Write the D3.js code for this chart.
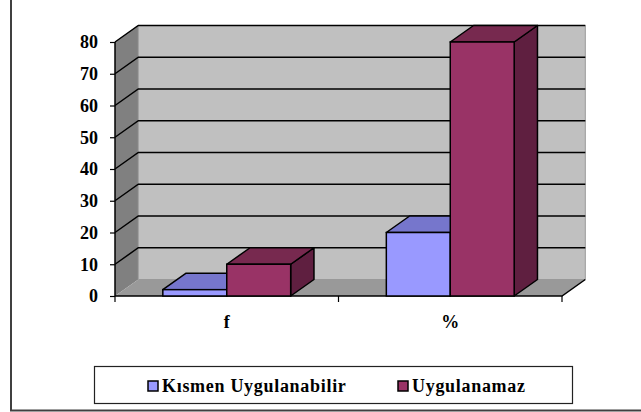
<!DOCTYPE html>
<html>
<head>
<meta charset="utf-8">
<script src="https://cdn.jsdelivr.net/npm/d3@7"></script>
<style>
  body { margin: 0; background: #fff; }
  svg text { font-family: "Liberation Serif", "Times New Roman", serif; font-weight: bold; }
</style>
</head>
<body>
<div class="chart"></div>
<script>
// Chart data
var categories = ["f", "%"];
var seriesNames = ["Kısmen Uygulanabilir", "Uygulanamaz"];
var kismenValues = [2, 20];
var uygulanamazValues = [10, 80];
var yTicks = [0, 10, 20, 30, 40, 50, 60, 70, 80];

var seriesColors = [
    { front: "#9999FF", top: "#7676CC", side: "#5C5C99" },
    { front: "#993366", top: "#77294F", side: "#5F1F40" }
];

var svgWidth = 641, svgHeight = 412;
var fontFam = "'Liberation Serif', 'Times New Roman', serif";

var svg = d3.select(".chart")
    .append("svg")
    .attr("width", svgWidth)
    .attr("height", svgHeight);

// outer frame (left + bottom only visible)
svg.append("path")
    .attr("d", "M11,0 V410.5 H641")
    .attr("fill", "none")
    .attr("stroke", "#404040")
    .attr("stroke-width", 2);

// plot geometry
var plotLeft = 115, plotRight = 562, plotBottom = 296;
var depthX = 23.3, depthY = -16.5;

var y = d3.scaleLinear()
    .domain([0, 80])
    .range([plotBottom, 42]);

var x0 = d3.scaleBand()
    .domain(categories)
    .range([plotLeft, plotRight]);

var bw = x0.bandwidth();
var x1 = d3.scaleBand()
    .domain(seriesNames)
    .range([bw * 0.214, bw * 0.786]);

var y0 = y(0), yTop = y(80);

// side wall
svg.append("polygon")
    .attr("points", [[plotLeft, y0], [plotLeft + depthX, y0 + depthY],
        [plotLeft + depthX, yTop + depthY], [plotLeft, yTop]].join(" "))
    .attr("fill", "#808080");

// back wall
svg.append("polygon")
    .attr("points", [[plotLeft + depthX, y0 + depthY], [plotRight + depthX, y0 + depthY],
        [plotRight + depthX, yTop + depthY], [plotLeft + depthX, yTop + depthY]].join(" "))
    .attr("fill", "#C0C0C0")
    .attr("stroke", "#999")
    .attr("stroke-width", 1);

// floor
svg.append("polygon")
    .attr("points", [[plotLeft, y0], [plotLeft + depthX, y0 + depthY],
        [plotRight + depthX, y0 + depthY], [plotRight, y0]].join(" "))
    .attr("fill", "#999999");

svg.append("path")
    .attr("d", `M${plotLeft},${y0} H${plotRight} L${plotRight + depthX},${y0 + depthY}`)
    .attr("fill", "none")
    .attr("stroke", "#000")
    .attr("stroke-width", 1.5);

// gridlines on side + back wall
svg.selectAll(".grid")
    .data(yTicks.filter(d => d > 0))
    .enter()
    .append("path")
    .attr("class", "grid")
    .attr("d", d => `M${plotLeft},${y(d)} L${plotLeft + depthX},${y(d) + depthY} H${plotRight + depthX}`)
    .attr("fill", "none")
    .attr("stroke", "#000")
    .attr("stroke-width", 1.5);

// y axis
var leftAxis = d3.axisLeft(y)
    .tickValues(yTicks)
    .tickSize(5)
    .tickPadding(12)
    .tickFormat(d3.format("d"));

var yAxisG = svg.append("g")
    .attr("transform", `translate(${plotLeft}, 0)`)
    .call(leftAxis)
    .attr("font-family", fontFam)
    .attr("font-size", 18);

yAxisG.select(".domain").attr("stroke", "#000").attr("stroke-width", 1.5)
    .attr("d", `M0,${y0}V${yTop}`);
yAxisG.selectAll(".tick line").attr("stroke", "#000").attr("stroke-width", 1.2);
yAxisG.selectAll(".tick text")
    .attr("fill", "#000")
    .attr("font-weight", "bold");

// x axis ticks at category boundaries
var boundaries = categories.map(c => x0(c)).concat([x0(categories[categories.length - 1]) + bw]);
svg.selectAll(".xtick")
    .data(boundaries)
    .enter()
    .append("line")
    .attr("class", "xtick")
    .attr("x1", d => d)
    .attr("x2", d => d)
    .attr("y1", y0)
    .attr("y2", y0 + 6)
    .attr("stroke", "#000")
    .attr("stroke-width", 1.2);

svg.selectAll(".xlabel")
    .data(categories)
    .enter()
    .append("text")
    .attr("class", "xlabel")
    .attr("x", d => x0(d) + bw / 2)
    .attr("y", 327.5)
    .attr("text-anchor", "middle")
    .attr("font-family", fontFam)
    .attr("font-size", 18)
    .text(d => d);

// 3D bars
var barData = [];
categories.forEach(function(c, i) {
    barData.push({ cat: c, series: seriesNames[0], value: kismenValues[i], col: seriesColors[0] });
    barData.push({ cat: c, series: seriesNames[1], value: uygulanamazValues[i], col: seriesColors[1] });
});

var barW = x1.bandwidth();
var bars = svg.selectAll(".bar")
    .data(barData)
    .enter()
    .append("g")
    .attr("class", "bar");

// side face
bars.append("polygon")
    .attr("points", function(d) {
        var xr = x0(d.cat) + x1(d.series) + barW, yt = y(d.value);
        return [[xr, y0], [xr + depthX, y0 + depthY], [xr + depthX, yt + depthY], [xr, yt]].join(" ");
    })
    .attr("fill", d => d.col.side)
    .attr("stroke", "#000")
    .attr("stroke-width", 1.5)
    .attr("stroke-linejoin", "round");

// top face
bars.append("polygon")
    .attr("points", function(d) {
        var xl = x0(d.cat) + x1(d.series), yt = y(d.value);
        return [[xl, yt], [xl + depthX, yt + depthY], [xl + barW + depthX, yt + depthY], [xl + barW, yt]].join(" ");
    })
    .attr("fill", d => d.col.top)
    .attr("stroke", "#000")
    .attr("stroke-width", 1.5)
    .attr("stroke-linejoin", "round");

// front face
bars.append("rect")
    .attr("x", d => x0(d.cat) + x1(d.series))
    .attr("y", d => y(d.value))
    .attr("width", barW)
    .attr("height", d => y0 - y(d.value))
    .attr("fill", d => d.col.front)
    .attr("stroke", "#000")
    .attr("stroke-width", 1.5);

// legend
svg.append("rect")
    .attr("x", 94.5)
    .attr("y", 366.5)
    .attr("width", 478)
    .attr("height", 37)
    .attr("fill", "#fff")
    .attr("stroke", "#222")
    .attr("stroke-width", 1.2);

var legendX = [148, 398];
var legend = svg.selectAll(".legend")
    .data(seriesNames)
    .enter()
    .append("g")
    .attr("class", "legend")
    .attr("transform", (d, i) => `translate(${legendX[i]}, 381)`);

legend.append("rect")
    .attr("width", 10)
    .attr("height", 10)
    .attr("fill", (d, i) => seriesColors[i].front)
    .attr("stroke", "#000")
    .attr("stroke-width", 1.5);

legend.append("text")
    .attr("x", 14)
    .attr("y", 11)
    .attr("font-family", fontFam)
    .attr("font-size", 18)
    .attr("letter-spacing", 0.7)
    .text(d => d);
</script>
</body>
</html>
